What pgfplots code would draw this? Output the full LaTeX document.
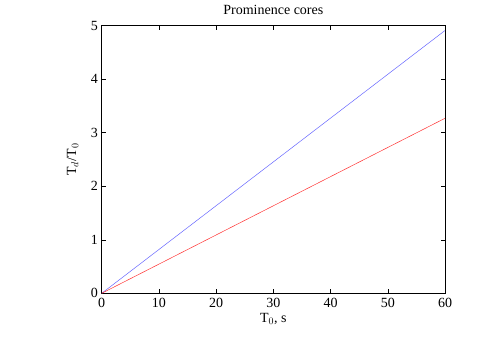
\documentclass[border=0pt]{standalone}
\usepackage{fontspec}
\setmainfont{Liberation Serif}
\usepackage{pgfplots}
\pgfplotsset{compat=1.18}

\begin{document}
\fontsize{14bp}{16bp}\selectfont
\begin{tikzpicture}
\begin{axis}[
    at={(0,0)}, anchor=south west,
    scale only axis,
    width=343.3bp, height=267.6bp,
    xmin=0, xmax=60, ymin=0, ymax=5,
    xtick={0,10,...,60}, ytick={0,1,...,5},
    tick align=inside,
    major tick length=4.5bp,
    tick style={black, line width=0.5pt},
    axis line style={line width=0.6pt},
    /pgf/number format/assume math mode=true,
    ticklabel style={font=\fontsize{14bp}{16bp}\selectfont},
    title={Prominence cores},
    title style={font=\fontsize{14bp}{16bp}\selectfont, yshift=0bp},
    xlabel={T$_0$, s},
    ylabel={T$_d$/T$_0$},
    label style={font=\fontsize{14bp}{16bp}\selectfont},
    xlabel style={yshift=4bp},
    ylabel style={yshift=3bp},
    yticklabel style={xshift=1bp},
]
\addplot[blue!60!white, line width=0.5pt] coordinates {(0,0) (60,4.91)};
\addplot[red!80!white, line width=0.5pt] coordinates {(0,0) (60,3.27)};
\end{axis}
\path (-101.7bp,-55.7bp) rectangle (389.3bp,293.3bp);
\end{tikzpicture}
\end{document}
